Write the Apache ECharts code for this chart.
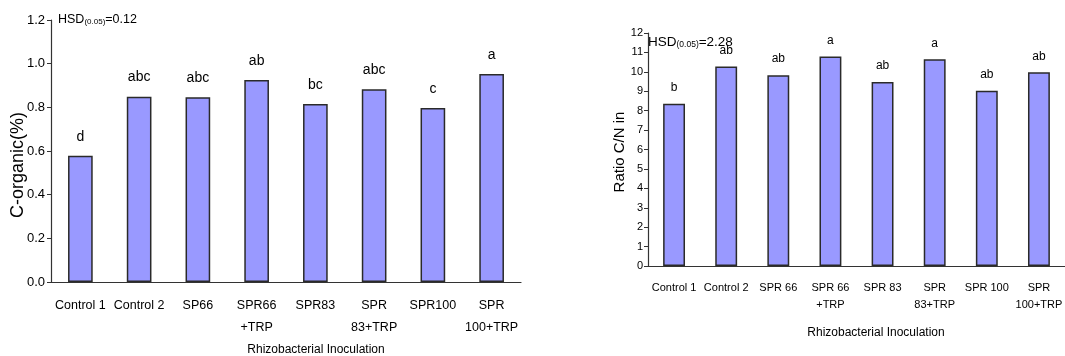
<!DOCTYPE html>
<html><head><meta charset="utf-8">
<script src="https://cdn.jsdelivr.net/npm/echarts@6/dist/echarts.min.js"></script>
<style>html,body{margin:0;padding:0;background:#fff}#c{width:1065px;height:356px}</style>
</head><body><div id="c"></div>
<script>
const catsLeft = ["Control 1","Control 2","SP66","SPR66\n+TRP","SPR83","SPR\n83+TRP","SPR100","SPR\n100+TRP"];
const valsLeft = [0.578, 0.849, 0.846, 0.925, 0.815, 0.883, 0.797, 0.953];
const lettersLeft = ["d","abc","abc","ab","bc","abc","c","a"];
const catsRight = ["Control 1","Control 2","SPR 66","SPR 66\n+TRP","SPR 83","SPR\n83+TRP","SPR 100","SPR\n100+TRP"];
const valsRight = [8.35, 10.27, 9.83, 10.79, 9.47, 10.65, 9.03, 9.98];
const lettersRight = ["b","ab","ab","a","ab","a","ab","ab"];
const SANS = "'Liberation Sans',Arial,sans-serif";
const axisCol = '#333';
const chart = echarts.init(document.getElementById('c'), null, {renderer:'canvas'});
function barSeries(idx, vals, letters, fs, dist){
  return {type:'bar', xAxisIndex:idx, yAxisIndex:idx, barWidth:'42%',
    data: vals.map((v,i)=>({value:v, label:{formatter:letters[i]}})),
    itemStyle:{color:'#9999FF', borderColor:'#2a2a2a', borderWidth:1.5},
    label:{show:true, position:'top', distance:dist, color:'#000', fontFamily:SANS, fontSize:fs},
    animation:false};
}
const hsdRich = (fa, fs) => ({
  a:{fontFamily:SANS, fontSize:fa, fill:'#000', verticalAlign:'bottom'},
  s:{fontFamily:SANS, fontSize:fs, fill:'#000', padding:[5,0,0,0], verticalAlign:'bottom'}});
chart.setOption({
  animation:false,
  grid:[
    {left:51, top:20, width:470, height:262},
    {left:648, top:33, width:427, height:233}
  ],
  xAxis:[
    {type:'category', gridIndex:0, data:catsLeft,
      axisLine:{lineStyle:{color:axisCol, width:1.2}}, axisTick:{length:5, lineStyle:{color:axisCol}},
      axisLabel:{color:'#000', fontFamily:SANS, fontSize:12.5, margin:13, lineHeight:22, interval:0}},
    {type:'category', gridIndex:1, data:catsRight,
      axisLine:{lineStyle:{color:axisCol, width:1.2}}, axisTick:{length:5, lineStyle:{color:axisCol}},
      axisLabel:{color:'#000', fontFamily:SANS, fontSize:11, margin:13, lineHeight:17, interval:0}}
  ],
  yAxis:[
    {type:'value', gridIndex:0, min:0, max:1.2, interval:0.2, splitLine:{show:false},
      axisLine:{show:true, lineStyle:{color:axisCol, width:1.2}}, axisTick:{show:true, length:4, lineStyle:{color:axisCol}},
      axisLabel:{color:'#000', fontFamily:SANS, fontSize:13, margin:6, formatter:v=>v.toFixed(1)}},
    {type:'value', gridIndex:1, min:0, max:12, interval:1, splitLine:{show:false},
      axisLine:{show:true, lineStyle:{color:axisCol, width:1.2}}, axisTick:{show:true, length:4, lineStyle:{color:axisCol}},
      axisLabel:{color:'#000', fontFamily:SANS, fontSize:11, margin:5}}
  ],
  series:[
    barSeries(0, valsLeft, lettersLeft, 14, 12),
    barSeries(1, valsRight, lettersRight, 12, 10)
  ],
  graphic:[
    {type:'text', left:58, top:13, style:{text:'{a|HSD}{s|(0.05)}{a|=0.12}', rich:hsdRich(12.5, 8)}},
    {type:'text', left:648, top:35, style:{text:'{a|HSD}{s|(0.05)}{a|=2.28}', rich:hsdRich(13.5, 8.5)}},
    {type:'text', x:18, y:165, rotation:Math.PI/2, style:{text:'C-organic(%)', fontFamily:SANS, fontSize:18, fill:'#000', align:'center', verticalAlign:'middle'}},
    {type:'text', x:620, y:152, rotation:Math.PI/2, style:{text:'Ratio C/N in', fontFamily:SANS, fontSize:15, fill:'#000', align:'center', verticalAlign:'middle'}},
    {type:'text', x:316, y:350, style:{text:'Rhizobacterial Inoculation', fontFamily:SANS, fontSize:12, fill:'#000', align:'center', verticalAlign:'middle'}},
    {type:'text', x:876, y:333, style:{text:'Rhizobacterial Inoculation', fontFamily:SANS, fontSize:12, fill:'#000', align:'center', verticalAlign:'middle'}}
  ]
});
</script></body></html>
